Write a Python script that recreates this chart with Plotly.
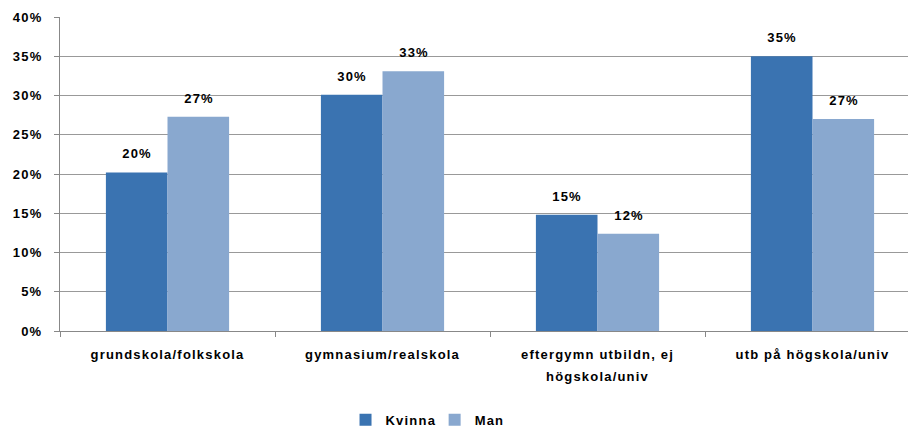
import plotly.graph_objects as go

categories = ["grundskola/folkskola", "gymnasium/realskola",
              "eftergymn utbildn, ej<br>högskola/univ", "utb på högskola/univ"]
kvinna = [0.202, 0.301, 0.148, 0.350]
man = [0.273, 0.331, 0.124, 0.270]
kvinna_labels = ["20%", "30%", "15%", "35%"]
man_labels = ["27%", "33%", "12%", "27%"]
y_ticks = [0, 0.05, 0.10, 0.15, 0.20, 0.25, 0.30, 0.35, 0.40]
y_tick_labels = ["0%", "5%", "10%", "15%", "20%", "25%", "30%", "35%", "40%"]

FONT = "Liberation Sans, Arial, sans-serif"

fig = go.Figure()
fig.add_trace(go.Bar(x=categories, y=kvinna, name="Kvinna", marker_color="#3A73B1",
                     marker_line_width=0))
fig.add_trace(go.Bar(x=categories, y=man, name="Man", marker_color="#89A8CF",
                     marker_line_width=0))

for labels, vals, shift in ((kvinna_labels, kvinna, -31), (man_labels, man, 31)):
    for c, v, t in zip(categories, vals, labels):
        fig.add_annotation(x=c, y=v, text=t, showarrow=False, xshift=shift,
                           yanchor="bottom", yshift=9,
                           font=dict(family=FONT, size=13, color="#000000", weight="bold"))

fig.update_layout(
    width=920, height=429,
    margin=dict(l=60, r=0, t=17, b=98, autoexpand=False),
    paper_bgcolor="white", plot_bgcolor="white",
    barmode="group", bargap=0.427, bargroupgap=0,
    font=dict(family=FONT, size=13, color="#000000", weight="bold"),
    showlegend=True,
    legend=dict(orientation="h", x=0.332, xanchor="left", y=-0.283, yanchor="middle",
                font=dict(family=FONT, size=13, weight="bold"), itemwidth=30,
                tracegroupgap=0, itemsizing="constant"),
)
fig.update_xaxes(showline=True, linecolor="#888888", linewidth=1,
                 ticks="outside", tickson="boundaries", ticklen=5, tickcolor="#888888",
                 ticklabelstandoff=11,
                 tickfont=dict(family=FONT, size=13, weight="bold"), showgrid=False,
                 automargin=False)
fig.update_yaxes(range=[0, 0.40], tickvals=y_ticks, ticktext=y_tick_labels,
                 showline=True, linecolor="#888888", linewidth=1,
                 ticks="outside", ticklen=5, tickcolor="#888888",
                 ticklabelstandoff=9,
                 showgrid=True, gridcolor="#999999", gridwidth=1,
                 zeroline=False, automargin=False,
                 tickfont=dict(family=FONT, size=13, weight="bold"))

post = """
document.documentElement.style.overflow = 'hidden';
document.body.style.overflow = 'hidden';
document.body.style.margin = '0';
document.body.style.padding = '0';
document.querySelectorAll('.main-svg text').forEach(function(t){
  t.style.letterSpacing = '1.2px';
});
document.querySelectorAll('.xtick text tspan.line').forEach(function(ts){
  var dy = ts.getAttribute('dy');
  if (dy && parseFloat(dy) > 0) { ts.setAttribute('dy', '1.7em'); }
});
"""

fig.write_html("out.html", post_script=post, config={"displayModeBar": False})
